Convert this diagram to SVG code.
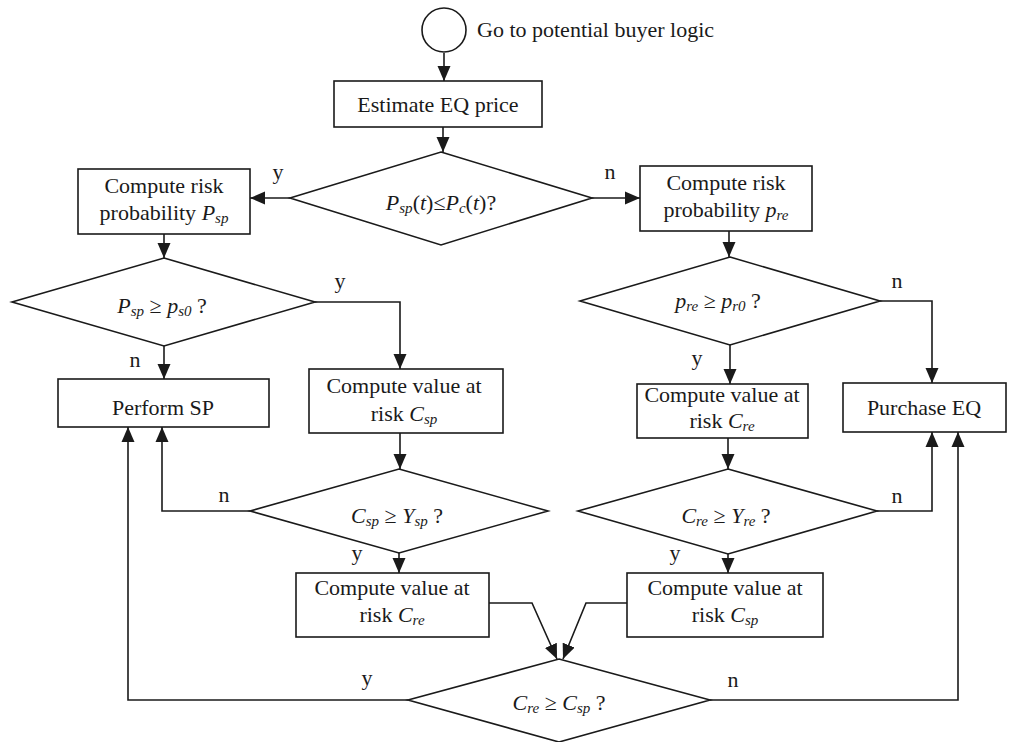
<svg xmlns="http://www.w3.org/2000/svg" width="1010" height="742" viewBox="0 0 1010 742">
<style>
.s{fill:#fff;stroke:#1a1a1a;stroke-width:1.6}
.t{font-family:"Liberation Serif","Times New Roman",serif;font-size:22px;fill:#1a1a1a;text-anchor:middle}
.i{font-style:italic}
.sub{font-style:italic;font-size:15px}
.c{fill:none;stroke:#1a1a1a;stroke-width:1.6}
</style>
<defs>
<marker id="a" markerUnits="userSpaceOnUse" markerWidth="15" markerHeight="15" viewBox="0 0 15 15" refX="15" refY="7.5" orient="auto">
<path d="M0,1 L15,7.5 L0,14 Z" fill="#1a1a1a"/>
</marker>
</defs>
<rect width="1010" height="742" fill="#fff"/>

<g id="connectors">
<path class="c" d="M444,53 V81" marker-end="url(#a)"/>
<path class="c" d="M443,127 V152" marker-end="url(#a)"/>
<path class="c" d="M290,198 H250" marker-end="url(#a)"/>
<path class="c" d="M592,198 H640" marker-end="url(#a)"/>
<path class="c" d="M164,234 V258" marker-end="url(#a)"/>
<path class="c" d="M315,302 H400 V369" marker-end="url(#a)"/>
<path class="c" d="M164,346 V379" marker-end="url(#a)"/>
<path class="c" d="M400,433 V469" marker-end="url(#a)"/>
<path class="c" d="M250,511 H162 V427" marker-end="url(#a)"/>
<path class="c" d="M399,553 V573" marker-end="url(#a)"/>
<path class="c" d="M489,603 H532 L557,659" marker-end="url(#a)"/>
<path class="c" d="M627,603 H586 L563,659" marker-end="url(#a)"/>
<path class="c" d="M408,700 H128 V427" marker-end="url(#a)"/>
<path class="c" d="M710,700 H958 V432" marker-end="url(#a)"/>
<path class="c" d="M729,231 V257" marker-end="url(#a)"/>
<path class="c" d="M880,301 H932 V383" marker-end="url(#a)"/>
<path class="c" d="M730,345 V384" marker-end="url(#a)"/>
<path class="c" d="M728,438 V469" marker-end="url(#a)"/>
<path class="c" d="M877,511 H932 V432" marker-end="url(#a)"/>
<path class="c" d="M728,554 V573" marker-end="url(#a)"/>
<text class="t" x="278" y="179">y</text>
<text class="t" x="610" y="179">n</text>
<text class="t" x="340" y="288">y</text>
<text class="t" x="135" y="367">n</text>
<text class="t" x="897" y="288">n</text>
<text class="t" x="697" y="365">y</text>
<text class="t" x="224" y="502">n</text>
<text class="t" x="357" y="560">y</text>
<text class="t" x="897" y="503">n</text>
<text class="t" x="675" y="560">y</text>
<text class="t" x="367" y="685">y</text>
<text class="t" x="733" y="687">n</text>
</g>

<g id="start">
<circle class="s" cx="444" cy="30" r="22"/>
<text class="t" x="477" y="37" style="text-anchor:start">Go to potential buyer logic</text>
</g>

<g id="estimate">
<rect class="s" x="334" y="81" width="208" height="46"/>
<text class="t" x="438" y="112">Estimate EQ price</text>
</g>

<g id="d1">
<polygon class="s" points="441,152 592,198 441,245 290,198"/>
<text class="t" x="441" y="210"><tspan class="i">P</tspan><tspan class="sub" dy="3">sp</tspan><tspan dy="-3">(</tspan><tspan class="i">t</tspan>)≤<tspan class="i">P</tspan><tspan class="sub" dy="3">c</tspan><tspan dy="-3">(</tspan><tspan class="i">t</tspan>)?</text>
</g>

<g id="riskSp">
<rect class="s" x="78" y="169" width="172" height="65"/>
<text class="t" x="164" y="193">Compute risk</text>
<text class="t" x="164" y="220">probability <tspan class="i">P</tspan><tspan class="sub" dy="3">sp</tspan></text>
</g>

<g id="riskRe">
<rect class="s" x="640" y="166" width="172" height="65"/>
<text class="t" x="726" y="190">Compute risk</text>
<text class="t" x="726" y="217">probability <tspan class="i">p</tspan><tspan class="sub" dy="3">re</tspan></text>
</g>

<g id="d2">
<polygon class="s" points="164,258 315,302 164,346 12,302"/>
<text class="t" x="162" y="313"><tspan class="i">P</tspan><tspan class="sub" dy="3">sp</tspan><tspan dy="-3"> ≥ </tspan><tspan class="i">p</tspan><tspan class="sub" dy="3">s0</tspan><tspan dy="-3"> ?</tspan></text>
</g>

<g id="d4">
<polygon class="s" points="730,257 880,301 730,345 580,301"/>
<text class="t" x="718" y="308"><tspan class="i">p</tspan><tspan class="sub" dy="3">re</tspan><tspan dy="-3"> ≥ </tspan><tspan class="i">p</tspan><tspan class="sub" dy="3">r0</tspan><tspan dy="-3"> ?</tspan></text>
</g>

<g id="performSP">
<rect class="s" x="58" y="379" width="211" height="48"/>
<text class="t" x="163" y="415">Perform SP</text>
</g>

<g id="varSp">
<rect class="s" x="309" y="369" width="194" height="64"/>
<text class="t" x="404" y="393">Compute value at</text>
<text class="t" x="404" y="421">risk <tspan class="i">C</tspan><tspan class="sub" dy="3">sp</tspan></text>
</g>

<g id="varRe">
<rect class="s" x="637" y="384" width="171" height="54"/>
<text class="t" x="722" y="402">Compute value at</text>
<text class="t" x="722" y="428">risk <tspan class="i">C</tspan><tspan class="sub" dy="3">re</tspan></text>
</g>

<g id="purchase">
<rect class="s" x="843" y="383" width="163" height="49"/>
<text class="t" x="924" y="415">Purchase EQ</text>
</g>

<g id="d3">
<polygon class="s" points="399,469 548,511 399,553 250,511"/>
<text class="t" x="397" y="523"><tspan class="i">C</tspan><tspan class="sub" dy="3">sp</tspan><tspan dy="-3"> ≥ </tspan><tspan class="i">Y</tspan><tspan class="sub" dy="3">sp</tspan><tspan dy="-3"> ?</tspan></text>
</g>

<g id="d5">
<polygon class="s" points="728,469 877,511 728,554 578,511"/>
<text class="t" x="726" y="523"><tspan class="i">C</tspan><tspan class="sub" dy="3">re</tspan><tspan dy="-3"> ≥ </tspan><tspan class="i">Y</tspan><tspan class="sub" dy="3">re</tspan><tspan dy="-3"> ?</tspan></text>
</g>

<g id="varRe2">
<rect class="s" x="296" y="573" width="193" height="64"/>
<text class="t" x="392" y="595">Compute value at</text>
<text class="t" x="392" y="622">risk <tspan class="i">C</tspan><tspan class="sub" dy="3">re</tspan></text>
</g>

<g id="varSp2">
<rect class="s" x="627" y="573" width="196" height="64"/>
<text class="t" x="725" y="595">Compute value at</text>
<text class="t" x="725" y="622">risk <tspan class="i">C</tspan><tspan class="sub" dy="3">sp</tspan></text>
</g>

<g id="d6">
<polygon class="s" points="559,659 710,700 559,742 408,700"/>
<text class="t" x="559" y="710"><tspan class="i">C</tspan><tspan class="sub" dy="3">re</tspan><tspan dy="-3"> ≥ </tspan><tspan class="i">C</tspan><tspan class="sub" dy="3">sp</tspan><tspan dy="-3"> ?</tspan></text>
</g>
</svg>
